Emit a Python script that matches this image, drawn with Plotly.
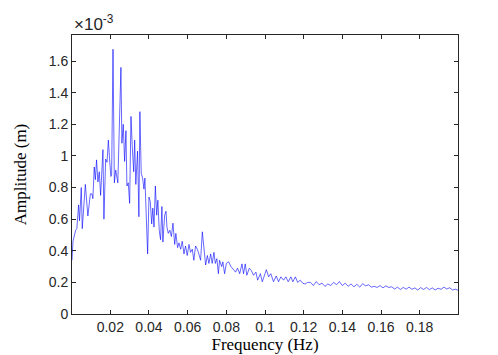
import plotly.graph_objects as go

freq_hz = [
    0.0002, 0.0007, 0.0021, 0.0027, 0.0036, 0.0041, 0.0050, 0.0055, 0.0071, 0.0084,
    0.0097, 0.0105, 0.0110, 0.0117, 0.0123, 0.0129, 0.0136, 0.0143, 0.0150, 0.0162,
    0.0167, 0.0176, 0.0183, 0.0190, 0.0196, 0.0203, 0.0207, 0.0214, 0.0221, 0.0228,
    0.0239, 0.0247, 0.0255, 0.0260, 0.0267, 0.0274, 0.0281, 0.0286, 0.0293, 0.0300,
    0.0307, 0.0314, 0.0321, 0.0326, 0.0332, 0.0341, 0.0348, 0.0353, 0.0360, 0.0367,
    0.0374, 0.0379, 0.0386, 0.0393, 0.0400, 0.0407, 0.0414, 0.0420, 0.0426, 0.0433,
    0.0440, 0.0446, 0.0453, 0.0460, 0.0467, 0.0472, 0.0481, 0.0488, 0.0493, 0.0500,
    0.0508, 0.0516, 0.0524, 0.0533, 0.0539, 0.0548, 0.0555, 0.0564, 0.0572, 0.0581,
    0.0589, 0.0598, 0.0607, 0.0615, 0.0624, 0.0632, 0.0641, 0.0650, 0.0658, 0.0667,
    0.0676, 0.0684, 0.0693, 0.0702, 0.0710, 0.0719, 0.0727, 0.0736, 0.0743, 0.0751,
    0.0759, 0.0765, 0.0776, 0.0782, 0.0791, 0.0800, 0.0812, 0.0824, 0.0838, 0.0848,
    0.0858, 0.0869, 0.0881, 0.0889, 0.0898, 0.0906, 0.0919, 0.0929, 0.0941, 0.0953,
    0.0962, 0.0976, 0.0986, 0.0996, 0.1007, 0.1019, 0.1030, 0.1044, 0.1058, 0.1070,
    0.1082, 0.1096, 0.1108, 0.1120, 0.1134, 0.1144, 0.1157, 0.1169, 0.1182, 0.1196,
    0.1208, 0.1220, 0.1235, 0.1250, 0.1265, 0.1280, 0.1295, 0.1310, 0.1325, 0.1340,
    0.1355, 0.1370, 0.1385, 0.1400, 0.1415, 0.1430, 0.1445, 0.1460, 0.1475, 0.1490,
    0.1505, 0.1520, 0.1535, 0.1550, 0.1565, 0.1580, 0.1595, 0.1610, 0.1625, 0.1640,
    0.1655, 0.1670, 0.1685, 0.1700, 0.1715, 0.1730, 0.1745, 0.1760, 0.1775, 0.1790,
    0.1805, 0.1820, 0.1835, 0.1850, 0.1865, 0.1880, 0.1895, 0.1910, 0.1925, 0.1940,
    0.1955, 0.1970, 0.1985, 0.1998,
]

amplitude_e3 = [
    0.34, 0.46, 0.53, 0.54, 0.69, 0.59, 0.80, 0.54, 0.82, 0.62,
    0.76, 0.76, 0.73, 0.93, 0.85, 0.975, 0.835, 0.90, 0.75, 1.04,
    0.60, 0.98, 0.96, 1.10, 0.985, 0.87, 0.88, 1.675, 0.83, 0.91,
    0.83, 1.27, 1.56, 1.08, 1.20, 0.965, 1.16, 0.81, 0.83, 0.70,
    1.25, 1.05, 0.90, 1.10, 0.82, 1.03, 0.615, 1.28, 0.89, 0.86,
    0.79, 0.86, 0.67, 0.38, 0.74, 0.71, 0.57, 0.67, 0.55, 0.81,
    0.625, 0.72, 0.53, 0.47, 0.68, 0.455, 0.625, 0.65, 0.55, 0.51,
    0.53, 0.49, 0.575, 0.44, 0.51, 0.42, 0.45, 0.41, 0.46, 0.38,
    0.43, 0.37, 0.44, 0.39, 0.41, 0.34, 0.43, 0.41, 0.38, 0.34,
    0.52, 0.42, 0.31, 0.37, 0.32, 0.38, 0.32, 0.39, 0.32, 0.35,
    0.255, 0.34, 0.30, 0.33, 0.255, 0.32, 0.33, 0.30, 0.275, 0.265,
    0.29, 0.255, 0.317, 0.255, 0.317, 0.245, 0.29, 0.275, 0.245, 0.265,
    0.214, 0.255, 0.204, 0.235, 0.28, 0.235, 0.255, 0.204, 0.24, 0.204,
    0.235, 0.214, 0.235, 0.204, 0.235, 0.204, 0.235, 0.20, 0.214, 0.194,
    0.19, 0.20, 0.20, 0.18, 0.205, 0.185, 0.195, 0.175, 0.19, 0.18,
    0.20, 0.185, 0.205, 0.18, 0.195, 0.175, 0.19, 0.172, 0.188, 0.17,
    0.192, 0.178, 0.185, 0.17, 0.175, 0.168, 0.18, 0.165, 0.178, 0.168,
    0.172, 0.158, 0.17, 0.155, 0.168, 0.157, 0.17, 0.156, 0.165, 0.152,
    0.167, 0.155, 0.168, 0.154, 0.165, 0.152, 0.163, 0.156, 0.17, 0.158,
    0.166, 0.152, 0.157, 0.15,
]

x_ticks = [0.02, 0.04, 0.06, 0.08, 0.1, 0.12, 0.14, 0.16, 0.18]
y_ticks = [0, 0.2, 0.4, 0.6, 0.8, 1, 1.2, 1.4, 1.6]

AXIS_COLOR = '#262626'
TICK_FONT = dict(family='Liberation Sans, Arial', size=14, color=AXIS_COLOR)
LABEL_FONT = dict(family='Liberation Serif, Times New Roman', size=17, color='black')

fig = go.Figure()
fig.add_trace(go.Scatter(
    x=freq_hz, y=amplitude_e3,
    mode='lines',
    line=dict(color='#0000ff', width=0.6),
    hoverinfo='x+y'))

axis_style = dict(
    showgrid=False, zeroline=False,
    showline=True, linecolor=AXIS_COLOR, linewidth=1,
    mirror='ticks', ticks='inside', ticklen=4, tickcolor=AXIS_COLOR, tickwidth=1,
    tickfont=TICK_FONT,
)

fig.update_layout(
    width=498, height=355,
    margin=dict(l=64, r=48, t=27, b=42),
    paper_bgcolor='white', plot_bgcolor='white',
    showlegend=False,
    xaxis=dict(range=[0.0002, 0.1998], tickvals=x_ticks,
               title=dict(text='Frequency (Hz)', font=LABEL_FONT, standoff=4),
               **axis_style),
    yaxis=dict(range=[0, 1.765], tickvals=y_ticks,
               title=dict(text='Amplitude (m)', font=LABEL_FONT, standoff=17),
               **axis_style),
)

fig.add_annotation(
    text='×10<sup>-3</sup>', xref='paper', yref='paper',
    x=0, y=1, xanchor='left', yanchor='bottom', yshift=-1,
    showarrow=False, font=dict(family='Liberation Sans, Arial', size=17, color=AXIS_COLOR))

fig.write_html("out.html")
